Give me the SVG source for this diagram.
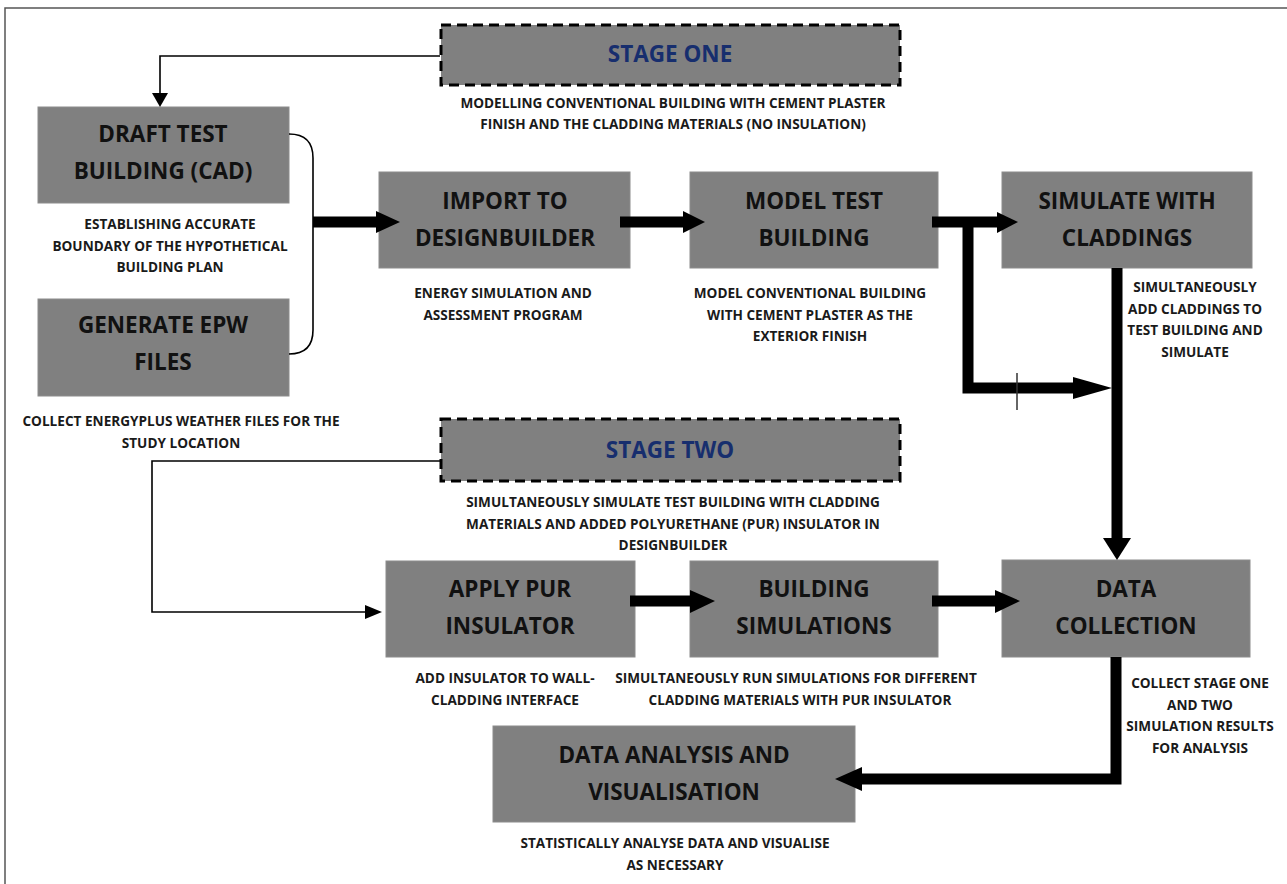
<svg xmlns="http://www.w3.org/2000/svg" width="1287" height="884" viewBox="0 0 1287 884">
<defs>
<style>
.box{fill:#808080;stroke:#8c8c8c;stroke-width:1}
.stage{fill:#808080;stroke:#000;stroke-width:3;stroke-dasharray:10 6}
.t{font-family:"Open Sans","Liberation Sans",sans-serif;font-weight:bold;font-size:22.5px;fill:#111;text-anchor:middle}
.st{font-family:"Open Sans","Liberation Sans",sans-serif;font-weight:bold;font-size:22.5px;fill:#172e6e;text-anchor:middle}
.s{font-family:"Open Sans","Liberation Sans",sans-serif;font-weight:bold;font-size:13.6px;fill:#1a1a1a;text-anchor:middle}
.thin{fill:none;stroke:#000;stroke-width:1.6}
.thick{fill:none;stroke:#000;stroke-width:11;stroke-linejoin:miter}
.head{fill:#000}
</style>
</defs>
<rect x="0" y="0" width="1287" height="884" fill="#fff"/>
<rect x="5" y="8" width="1300" height="900" fill="none" stroke="#555" stroke-width="1.5"/>

<g id="stage-one">
  <rect class="stage" x="441" y="25" width="459" height="60"/>
  <text class="st" x="670" y="62">STAGE ONE</text>
  <text class="s" x="673" y="108">MODELLING CONVENTIONAL BUILDING WITH CEMENT PLASTER</text>
  <text class="s" x="673" y="129">FINISH AND THE CLADDING MATERIALS (NO INSULATION)</text>
</g>

<g id="draft-test-building">
  <rect class="box" x="38" y="107" width="251" height="96"/>
  <text class="t" x="163" y="142">DRAFT TEST</text>
  <text class="t" x="163" y="179">BUILDING (CAD)</text>
  <text class="s" x="170" y="229">ESTABLISHING ACCURATE</text>
  <text class="s" x="170" y="251">BOUNDARY OF THE HYPOTHETICAL</text>
  <text class="s" x="170" y="272">BUILDING PLAN</text>
</g>

<g id="generate-epw">
  <rect class="box" x="38" y="299" width="251" height="97"/>
  <text class="t" x="163" y="333">GENERATE EPW</text>
  <text class="t" x="163" y="370">FILES</text>
  <text class="s" x="181" y="426">COLLECT ENERGYPLUS WEATHER FILES FOR THE</text>
  <text class="s" x="181" y="448">STUDY LOCATION</text>
</g>

<g id="import-designbuilder">
  <rect class="box" x="379" y="172" width="251" height="96"/>
  <text class="t" x="505" y="209">IMPORT TO</text>
  <text class="t" x="505" y="246">DESIGNBUILDER</text>
  <text class="s" x="503" y="298">ENERGY SIMULATION AND</text>
  <text class="s" x="503" y="320">ASSESSMENT PROGRAM</text>
</g>

<g id="model-test-building">
  <rect class="box" x="690" y="172" width="248" height="96"/>
  <text class="t" x="814" y="209">MODEL TEST</text>
  <text class="t" x="814" y="246">BUILDING</text>
  <text class="s" x="810" y="298">MODEL CONVENTIONAL BUILDING</text>
  <text class="s" x="810" y="320">WITH CEMENT PLASTER AS THE</text>
  <text class="s" x="810" y="341">EXTERIOR FINISH</text>
</g>

<g id="simulate-claddings">
  <rect class="box" x="1002" y="172" width="250" height="96"/>
  <text class="t" x="1127" y="209">SIMULATE WITH</text>
  <text class="t" x="1127" y="246">CLADDINGS</text>
  <text class="s" x="1195" y="292">SIMULTANEOUSLY</text>
  <text class="s" x="1195" y="314">ADD CLADDINGS TO</text>
  <text class="s" x="1195" y="335">TEST BUILDING AND</text>
  <text class="s" x="1195" y="357">SIMULATE</text>
</g>

<g id="stage-two">
  <rect class="stage" x="441" y="419" width="459" height="62"/>
  <text class="st" x="670" y="458">STAGE TWO</text>
  <text class="s" x="673" y="507">SIMULTANEOUSLY SIMULATE TEST BUILDING WITH CLADDING</text>
  <text class="s" x="673" y="529">MATERIALS AND ADDED POLYURETHANE (PUR) INSULATOR IN</text>
  <text class="s" x="673" y="550">DESIGNBUILDER</text>
</g>

<g id="apply-pur">
  <rect class="box" x="386" y="561" width="249" height="96"/>
  <text class="t" x="510" y="597">APPLY PUR</text>
  <text class="t" x="510" y="634">INSULATOR</text>
  <text class="s" x="505" y="683">ADD INSULATOR TO WALL-</text>
  <text class="s" x="505" y="705">CLADDING INTERFACE</text>
</g>

<g id="building-simulations">
  <rect class="box" x="690" y="561" width="248" height="96"/>
  <text class="t" x="814" y="597">BUILDING</text>
  <text class="t" x="814" y="634">SIMULATIONS</text>
  <text class="s" x="796" y="683">SIMULTANEOUSLY RUN SIMULATIONS FOR DIFFERENT</text>
  <text class="s" x="800" y="705">CLADDING MATERIALS WITH PUR INSULATOR</text>
</g>

<g id="data-collection">
  <rect class="box" x="1002" y="560" width="248" height="97"/>
  <text class="t" x="1126" y="597">DATA</text>
  <text class="t" x="1126" y="634">COLLECTION</text>
  <text class="s" x="1200" y="688">COLLECT STAGE ONE</text>
  <text class="s" x="1200" y="710">AND TWO</text>
  <text class="s" x="1200" y="731">SIMULATION RESULTS</text>
  <text class="s" x="1200" y="753">FOR ANALYSIS</text>
</g>

<g id="data-analysis">
  <rect class="box" x="493" y="726" width="362" height="96"/>
  <text class="t" x="674" y="763">DATA ANALYSIS AND</text>
  <text class="t" x="674" y="800">VISUALISATION</text>
  <text class="s" x="675" y="848">STATISTICALLY ANALYSE DATA AND VISUALISE</text>
  <text class="s" x="675" y="870">AS NECESSARY</text>
</g>

<g id="connectors">
  <polyline class="thin" points="440,56 160,56 160,94"/>
  <polygon class="head" points="152,93 168,93 160,107"/>
  <path class="thin" stroke="#333" d="M289,134 Q313,134 313,158 L313,330 Q313,354 289,354"/>
  <line class="thick" x1="313" y1="222" x2="380" y2="222"/>
  <polygon class="head" points="376,211 376,233 400,222"/>
  <line class="thick" x1="620" y1="222" x2="688" y2="222"/>
  <polygon class="head" points="683,211 683,233 705,222"/>
  <line class="thick" x1="932" y1="222" x2="1000" y2="222"/>
  <polygon class="head" points="997,212 997,233 1018,222"/>
  <polyline class="thick" stroke-width="10" points="968,217 968,388 1078,388"/>
  <polygon class="head" points="1073,377 1073,399 1112,388"/>
  <line x1="1017" y1="373" x2="1017" y2="410" stroke="#333" stroke-width="1.5"/>
  <line class="thick" stroke-width="12" x1="1117" y1="268" x2="1117" y2="542"/>
  <polygon class="head" points="1103,538 1131,538 1117,560"/>
  <polyline class="thin" points="440,461 152,461 152,612 368,612"/>
  <polygon class="head" points="365,605 365,619 382,612"/>
  <line class="thick" x1="630" y1="601" x2="693" y2="601"/>
  <polygon class="head" points="690,590 690,613 715,601"/>
  <line class="thick" x1="932" y1="601" x2="998" y2="601"/>
  <polygon class="head" points="995,590 995,613 1020,601"/>
  <polyline class="thick" stroke-width="12" points="1116,657 1116,779 858,779"/>
  <polygon class="head" points="862,767 862,791 835,779"/>
</g>
</svg>
